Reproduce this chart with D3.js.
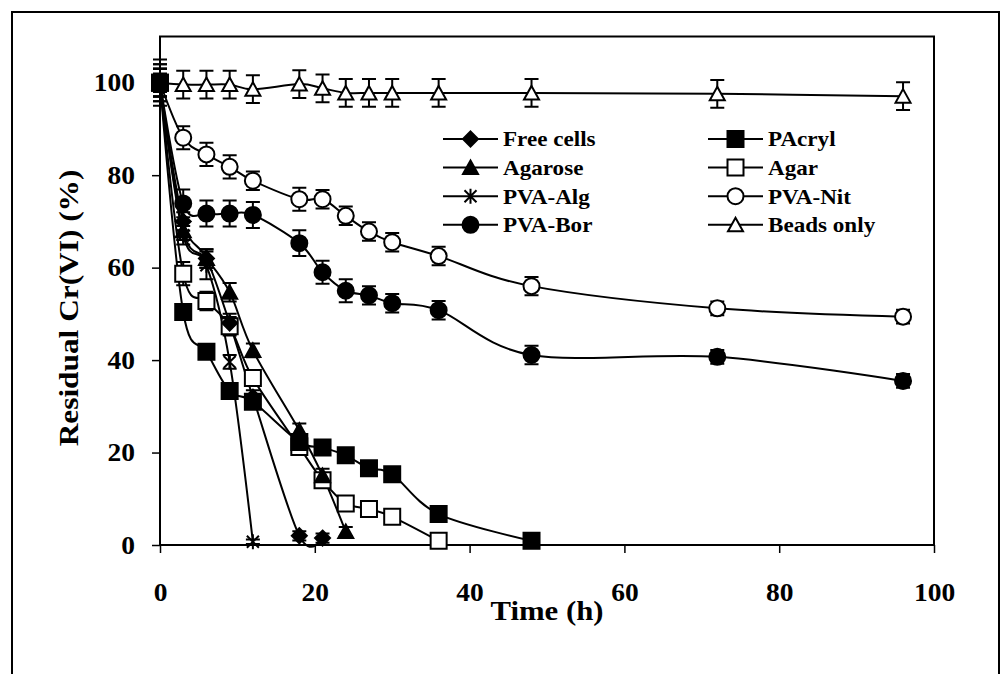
<!DOCTYPE html>
<html>
<head>
<meta charset="utf-8">
<script src="https://cdn.jsdelivr.net/npm/d3@7"></script>
<style>
  body { margin: 0; background: #fff; }
  text { font-family: "Liberation Serif", "Times New Roman", serif; font-weight: bold; fill: #000; }
</style>
</head>
<body>
<div id="chart"></div>
<script>
// Residual Cr(VI) over time for free and immobilised cells
const freeT = [0, 3, 6, 9, 12, 18, 21];
const freeV = [100, 70, 62, 48, 32, 2, 1.5];
const freeE = [3, 2, 2, 2, 1.5, 1, 1];

const pacrylT = [0, 3, 6, 9, 12, 18, 21, 24, 27, 30, 36, 48];
const pacrylV = [100, 50.4, 41.8, 33.3, 31, 22.3, 21.1, 19.4, 16.6, 15.3, 6.7, 0.9];
const pacrylE = [2, 1, 1, 1, 1, 1, 1, 1, 1, 1, 1, 0.5];

const agaroseT = [0, 3, 6, 9, 12, 18, 21, 24];
const agaroseV = [100, 68, 62, 54.7, 42.1, 24.8, 15, 2.9];
const agaroseE = [3, 2, 2, 2, 1.5, 1.5, 1.5, 1];

const agarT = [0, 3, 6, 9, 12, 18, 21, 24, 27, 30, 36];
const agarV = [100, 58.7, 52.8, 47.3, 36.1, 21.2, 14, 9, 7.8, 6.1, 0.9];
const agarE = [4, 2.5, 2, 2, 1.5, 1, 1, 1, 1, 1, 0.5];

const pvaAlgT = [0, 3, 6, 9, 12];
const pvaAlgV = [100, 67, 60.5, 39.6, 0.7];
const pvaAlgE = [3, 2, 3, 1.5, 0.5];

const pvaNitT = [0, 3, 6, 9, 12, 18, 21, 24, 27, 30, 36, 48, 72, 96];
const pvaNitV = [100, 88.1, 84.5, 81.8, 78.8, 74.8, 74.8, 71.2, 67.8, 65.5, 62.5, 56, 51.2, 49.4];
const pvaNitE = [4, 2.5, 2.5, 2.5, 2, 2.5, 2, 2, 2, 2, 2, 2, 1.5, 1.5];

const pvaBorT = [0, 3, 6, 9, 12, 18, 21, 24, 27, 30, 36, 48, 72, 96];
const pvaBorV = [100, 73.9, 71.7, 71.7, 71.4, 65.3, 59, 55, 54, 52.3, 50.8, 41.1, 40.7, 35.5];
const pvaBorE = [3, 3, 2.8, 2.8, 2.8, 2.8, 2.5, 2.5, 2, 2, 2, 2, 1.5, 1.5];

const beadsT = [0, 3, 6, 9, 12, 18, 21, 24, 27, 30, 36, 48, 72, 96];
const beadsV = [100, 99.6, 99.6, 99.6, 98.6, 99.7, 98.8, 97.8, 97.8, 97.8, 97.8, 97.8, 97.6, 97.1];
const beadsE = [5, 3, 3, 3, 3, 3, 3, 3, 3, 3, 3, 3, 3, 3];

const seriesNames = ["Free cells", "PAcryl", "Agarose", "Agar", "PVA-Alg", "PVA-Nit", "PVA-Bor", "Beads only"];
const xTicks = [0, 20, 40, 60, 80, 100];
const yTicks = [0, 20, 40, 60, 80, 100];

const series = [
  { name: seriesNames[0], t: freeT, v: freeV, e: freeE, shape: "diamond", filled: true },
  { name: seriesNames[1], t: pacrylT, v: pacrylV, e: pacrylE, shape: "square", filled: true },
  { name: seriesNames[2], t: agaroseT, v: agaroseV, e: agaroseE, shape: "triangle", filled: true },
  { name: seriesNames[3], t: agarT, v: agarV, e: agarE, shape: "square", filled: false },
  { name: seriesNames[4], t: pvaAlgT, v: pvaAlgV, e: pvaAlgE, shape: "star", filled: true },
  { name: seriesNames[5], t: pvaNitT, v: pvaNitV, e: pvaNitE, shape: "circle", filled: false },
  { name: seriesNames[6], t: pvaBorT, v: pvaBorV, e: pvaBorE, shape: "circle", filled: true },
  { name: seriesNames[7], t: beadsT, v: beadsV, e: beadsE, shape: "triangle", filled: false }
].map(s => ({ ...s, pts: s.t.map((t, i) => ({ t, v: s.v[i], e: s.e[i] })) }));

const W = 1008, H = 674;
const svg = d3.select("#chart").append("svg").attr("width", W).attr("height", H);

// outer frame (bottom edge runs off the page)
svg.append("rect").attr("x", 12).attr("y", 12).attr("width", 987).attr("height", 700)
  .attr("fill", "none").attr("stroke", "#000").attr("stroke-width", 2);

const x = d3.scaleLinear().domain([0, 100]).range([160, 934]);
const y = d3.scaleLinear().domain([0, 110]).range([545, 36.5]);

// stretch text a little wider, like the original export
function stretch(sel, k) {
  sel.each(function () {
    const w = this.getComputedTextLength();
    d3.select(this).attr("textLength", w * k).attr("lengthAdjust", "spacingAndGlyphs");
  });
}

// plot frame
svg.append("rect").attr("x", x(0)).attr("y", y(110))
  .attr("width", x(100) - x(0)).attr("height", y(0) - y(110))
  .attr("fill", "none").attr("stroke", "#000").attr("stroke-width", 2);

const xAxis = svg.append("g").attr("transform", `translate(0,${y(0)})`)
  .call(d3.axisBottom(x).tickValues(xTicks).tickSize(8).tickPadding(30).tickFormat(d3.format("d")));
const yAxis = svg.append("g").attr("transform", `translate(${x(0)},0)`)
  .call(d3.axisLeft(y).tickValues(yTicks).tickSize(8).tickPadding(17).tickFormat(d3.format("d")));
[xAxis, yAxis].forEach(a => {
  a.select(".domain").remove();
  a.selectAll(".tick line").attr("stroke", "#000").attr("stroke-width", 1.5);
  a.selectAll(".tick text").attr("font-size", 25).attr("font-family", null).call(stretch, 1.1);
});
xAxis.selectAll(".tick text").attr("dy", "0.71em");

svg.append("text").attr("x", (x(0) + x(100)) / 2).attr("y", 620)
  .attr("text-anchor", "middle").attr("font-size", 27).text("Time (h)").call(stretch, 1.14);
svg.append("text").attr("transform", "translate(78,308) rotate(-90)")
  .attr("text-anchor", "middle").attr("font-size", 27).text("Residual Cr(VI) (%)").call(stretch, 1.16);

function markerPath(shape) {
  switch (shape) {
    case "diamond": return "M0,-7.5L7.5,0L0,7.5L-7.5,0Z";
    case "square": return "M-8,-8H8V8H-8Z";
    case "triangle": return "M0,-7L7.5,6.5H-7.5Z";
    case "circle": return "M8,0A8,8 0 1,1 -8,0A8,8 0 1,1 8,0Z";
    case "star": return "M-6,-6L6,6M-6,6L6,-6M0,-7.5V7.5";
  }
}
function drawMarker(g, s, cx, cy) {
  const star = s.shape === "star";
  g.append("path").attr("transform", `translate(${cx},${cy})`).attr("d", markerPath(s.shape))
    .attr("fill", star ? "none" : (s.filled ? "#000" : "#fff"))
    .attr("stroke", "#000").attr("stroke-width", star ? 2 : 2);
}

const line = d3.line().x(d => x(d.t)).y(d => y(d.v)).curve(d3.curveCardinal);
const plot = svg.append("g");

series.forEach(s => {
  plot.append("path").datum(s.pts).attr("d", line)
    .attr("fill", "none").attr("stroke", "#000").attr("stroke-width", 2);
  const eb = plot.append("g");
  s.pts.forEach(p => {
    const top = y(p.v + p.e), bot = y(p.v - p.e), cx = x(p.t);
    eb.append("path").attr("d", `M${cx},${top}V${bot}M${cx - 7},${top}H${cx + 7}M${cx - 7},${bot}H${cx + 7}`)
      .attr("stroke", "#000").attr("stroke-width", 2).attr("fill", "none");
  });
});

// markers drawn last-series first so the solid square sits on top at t = 0
series.slice().reverse().forEach(s => {
  const g = plot.append("g");
  s.pts.forEach(p => drawMarker(g, s, x(p.t), y(p.v)));
});

// legend: two columns of four
const legend = svg.append("g");
series.forEach((s, i) => {
  const col = i % 2, row = Math.floor(i / 2);
  const lx = col === 0 ? 443 : 708;
  const ly = 139 + row * 28.6;
  const g = legend.append("g");
  g.append("line").attr("x1", lx).attr("x2", lx + 55).attr("y1", ly).attr("y2", ly)
    .attr("stroke", "#000").attr("stroke-width", 2);
  drawMarker(g, s, lx + 27.5, ly);
  g.append("text").attr("x", lx + 60).attr("y", ly).attr("dy", "0.35em")
    .attr("font-size", 21).text(s.name).call(stretch, 1.1);
});
</script>
</body>
</html>
